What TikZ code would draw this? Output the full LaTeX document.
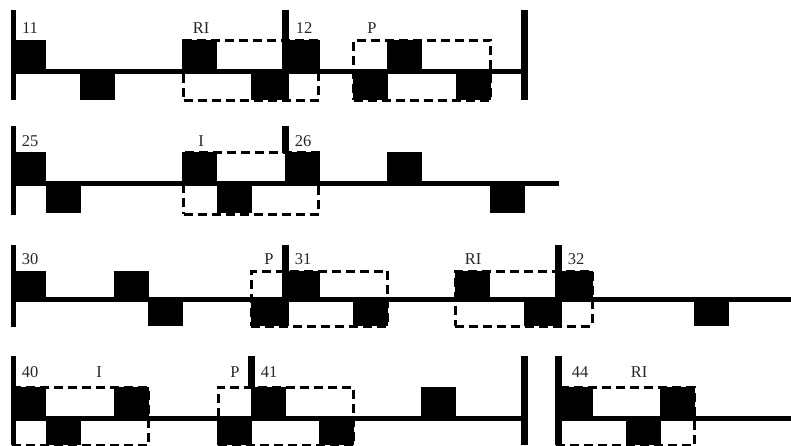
\documentclass[tikz,border=0pt]{standalone}
\usepackage{fontspec}
\setmainfont{Liberation Serif}
\usepackage{xcolor}
\usetikzlibrary{positioning}

\begin{document}
\begin{tikzpicture}[
  x=1pt,y=-1pt,
  font=\fontsize{16.5}{18}\selectfont,
  hit/.style={fill=black,inner sep=0pt,outer sep=0pt,anchor=north west,minimum width=35pt},
  hi/.style={hit,minimum height=#1 pt},
  bar/.style={fill=black,inner sep=0pt,outer sep=0pt,anchor=north west,minimum width=#1 pt},
  staff/.style={line width=5pt},
  ghost/.style={draw=black,dashed,line width=3pt,dash pattern=on 9pt off 5pt,inner sep=0pt,outer sep=0pt,anchor=north west},
  lbl/.style={inner sep=0pt,text=black!85}
]
\useasboundingbox (0,0) rectangle (791,445);

%------ row 1 : 11 and 12 ----------------------------------------------------
\coordinate (s1a) at (11,71.5);
\coordinate (s1b) at (525,71.5);
\draw[staff] (s1a) -- (s1b);
\node[bar=5,minimum height=90pt] (b1a) at (11,10) {};
\node[bar=7,minimum height=90pt] (b1b) at (282,10) {};
\node[bar=7,minimum height=90pt] (b1c) at (521,10) {};
\node[hi=30] (u1a) at (11,40) {};
\node[hi=30] (u1b) at (182,40) {};
\node[hi=30] (u1c) at (285,40) {};
\node[hi=30] (u1d) at (386.500,40) {};
\node[hi=27] (d1a) at (80,73) {};
\node[hi=27] (d1b) at (251,73) {};
\node[hi=27] (d1c) at (353,73) {};
\node[hi=27] (d1d) at (456,73) {};
\node[ghost,minimum width=135pt,minimum height=60pt] (g1a) at (183.600,40.300) {};
\node[ghost,minimum width=137pt,minimum height=60pt] (g1b) at (353.600,40.300) {};
\node[lbl] (t11) at (30,28) {11};
\node[lbl] (tri1) at (201,28) {RI};
\node[lbl] (t12) at (304,28) {12};
\node[lbl] (tp1) at (372,28) {P};

%------ row 2 : 25 and 26 ----------------------------------------------------
\coordinate (s2a) at (11,183.500);
\coordinate (s2b) at (559,183.500);
\draw[staff] (s2a) -- (s2b);
\node[bar=5,minimum height=89pt] (b2a) at (11,126) {};
\node[bar=7,minimum height=27pt] (b2b) at (282,126) {};
\node[hi=30] (u2a) at (11,152) {};
\node[hi=30] (u2b) at (182,152) {};
\node[hi=30] (u2c) at (285,152) {};
\node[hi=30] (u2d) at (386.500,152) {};
\node[hi=31] (d2a) at (46,182) {};
\node[hi=31] (d2b) at (217,182) {};
\node[hi=31] (d2c) at (490,182) {};
\node[ghost,minimum width=135pt,minimum height=62pt] (g2a) at (183.600,152) {};
\node[lbl] (t25) at (30,141) {25};
\node[lbl] (ti2) at (201,141) {I};
\node[lbl] (t26) at (303,141) {26};

%------ row 3 : 30, 31 and 32 ------------------------------------------------
\coordinate (s3a) at (11,299.500);
\coordinate (s3b) at (791,299.500);
\draw[staff] (s3a) -- (s3b);
\node[bar=5,minimum height=82pt] (b3a) at (11,245) {};
\node[bar=7,minimum height=81pt] (b3b) at (282,245) {};
\node[bar=7,minimum height=81pt] (b3c) at (555,245) {};
\node[hi=27] (u3a) at (11,271) {};
\node[hi=27] (u3b) at (114,271) {};
\node[hi=27] (u3c) at (284.500,271) {};
\node[hi=27] (u3d) at (455,271) {};
\node[hi=27] (u3e) at (558,271) {};
\node[hi=27] (d3a) at (148,299) {};
\node[hi=27] (d3b) at (251,299) {};
\node[hi=27] (d3c) at (353,299) {};
\node[hi=27] (d3d) at (524,299) {};
\node[hi=27] (d3e) at (694,299) {};
\node[ghost,minimum width=136.400pt,minimum height=54.700pt] (g3a) at (251.300,271.300) {};
\node[ghost,minimum width=137.400pt,minimum height=54.700pt] (g3b) at (455.300,271.300) {};
\node[lbl] (t30) at (30,259) {30};
\node[lbl] (tp3) at (269,259) {P};
\node[lbl] (t31) at (303,259) {31};
\node[lbl] (tri3) at (473,259) {RI};
\node[lbl] (t32) at (576,259) {32};

%------ row 4 : 40, 41 and 44 ------------------------------------------------
\coordinate (s4a) at (11,418.500);
\coordinate (s4b) at (525,418.500);
\coordinate (s4c) at (558,418.500);
\coordinate (s4d) at (791,418.500);
\draw[staff] (s4a) -- (s4b);
\draw[staff] (s4c) -- (s4d);
\node[bar=5,minimum height=89pt] (b4a) at (11,356) {};
\node[bar=7,minimum height=32pt] (b4b) at (248,356) {};
\node[bar=7,minimum height=89pt] (b4c) at (521,356) {};
\node[bar=7,minimum height=89pt] (b4d) at (555,356) {};
\node[hi=30] (u4a) at (11,387) {};
\node[hi=30] (u4b) at (114,387) {};
\node[hi=30] (u4c) at (251,387) {};
\node[hi=30] (u4d) at (421,387) {};
\node[hi=30] (u4e) at (558,387) {};
\node[hi=30] (u4f) at (660,387) {};
\node[hi=27] (d4a) at (46,418) {};
\node[hi=27] (d4b) at (217,418) {};
\node[hi=27] (d4c) at (319,418) {};
\node[hi=27] (d4d) at (626,418) {};
\node[ghost,minimum width=136.500pt,minimum height=57.700pt] (g4a) at (12,387.300) {};
\node[ghost,minimum width=135.700pt,minimum height=57.700pt] (g4b) at (218,387.300) {};
\node[ghost,minimum width=138.700pt,minimum height=57.700pt] (g4c) at (556,387.300) {};
\node[lbl] (t40) at (30,372) {40};
\node[lbl] (ti4) at (99,372) {I};
\node[lbl] (tp4) at (235,372) {P};
\node[lbl] (t41) at (269,372) {41};
\node[lbl] (t44) at (580,372) {44};
\node[lbl] (tri4) at (639,372) {RI};
\end{tikzpicture}
\end{document}
